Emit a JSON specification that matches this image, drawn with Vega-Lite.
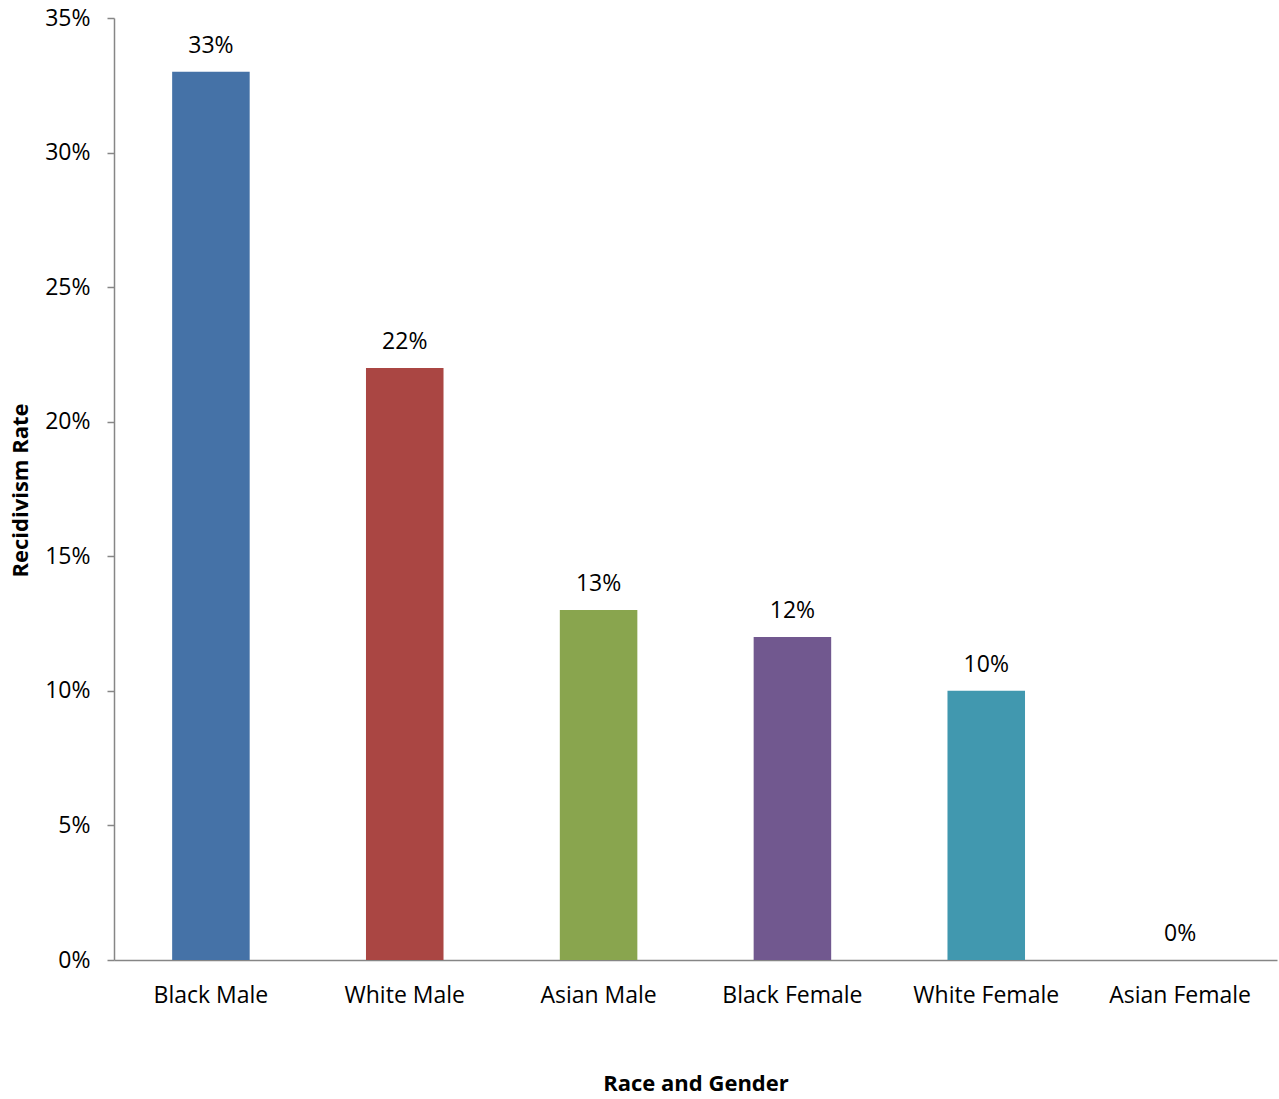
{
  "$schema": "https://vega.github.io/schema/vega-lite/v6.json",
  "width": 1163,
  "height": 942,
  "autosize": {"type": "none"},
  "padding": {"left": 114, "top": 18, "right": 2, "bottom": 139},
  "background": "white",
  "config": {"view": {"stroke": null}, "font": "Open Sans"},
  "data": {"values": [
    {"group": "Black Male", "rate": 0.33},
    {"group": "White Male", "rate": 0.22},
    {"group": "Asian Male", "rate": 0.13},
    {"group": "Black Female", "rate": 0.12},
    {"group": "White Female", "rate": 0.10},
    {"group": "Asian Female", "rate": 0.0}
  ]},
  "encoding": {
    "x": {"field": "group", "type": "nominal", "sort": null,
      "scale": {"paddingInner": 0.6, "paddingOuter": 0.3},
      "axis": {"title": "Race and Gender", "labelAngle": 0, "ticks": false, "domainColor": "#868686", "domainWidth": 1.5,
        "labelFont": "Open Sans", "labelFontSize": 23, "labelColor": "#000000", "labelPadding": 35, "labelBaseline": "middle",
        "titleFont": "Open Sans", "titleFontSize": 22, "titleFontWeight": "bold", "titleColor": "#000000",
        "titleX": 581.5, "titleY": 123, "titleBaseline": "middle"}},
    "y": {"field": "rate", "type": "quantitative",
      "scale": {"domain": [0, 0.35], "nice": false},
      "axis": {"title": "Recidivism Rate", "format": ".0%", "values": [0, 0.05, 0.1, 0.15, 0.2, 0.25, 0.3, 0.35], "grid": false,
        "domainColor": "#868686", "domainWidth": 1.5, "tickColor": "#868686", "tickWidth": 1.5, "tickSize": 7,
        "labelFont": "Open Sans", "labelFontSize": 23, "labelColor": "#000000", "labelPadding": 17,
        "titleFont": "Open Sans", "titleFontSize": 22, "titleFontWeight": "bold", "titleColor": "#000000",
        "titleX": -94, "titleY": 472, "titleBaseline": "middle", "titleAngle": -90, "titleAlign": "center"}}
  },
  "layer": [
    {"mark": {"type": "bar"},
     "encoding": {"color": {"field": "group", "type": "nominal", "sort": null, "legend": null,
       "scale": {"domain": ["Black Male", "White Male", "Asian Male", "Black Female", "White Female", "Asian Female"],
                 "range": ["#4572A7", "#AA4643", "#89A54E", "#71588F", "#4198AF", "#DB843D"]}}}},
    {"mark": {"type": "text", "baseline": "middle", "dy": -26, "font": "Open Sans", "fontSize": 23, "color": "#000000"},
     "encoding": {"text": {"field": "rate", "type": "quantitative", "format": ".0%"}}}
  ]
}
